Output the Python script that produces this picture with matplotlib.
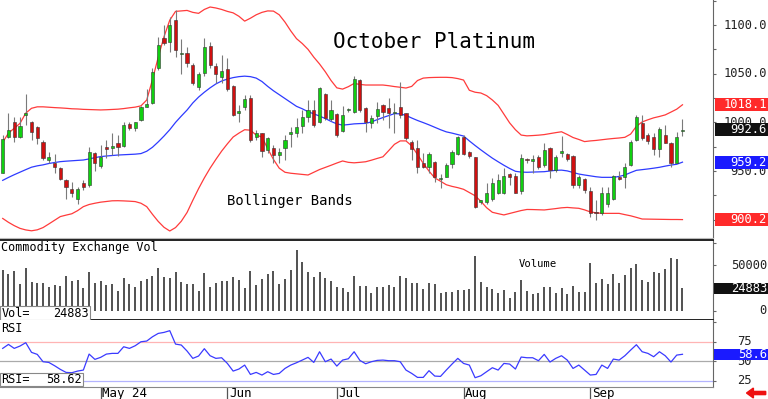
import numpy as np
import matplotlib.pyplot as plt
from matplotlib.patches import Rectangle, FancyArrow
from matplotlib.transforms import blended_transform_factory

plt.rcParams['font.family'] = ['DejaVu Sans Mono']

# daily OHLC, October platinum
open_ = [948.4, 984.7, 1000.1, 984.7, 1008.0, 1000.1, 995.6, 980.2, 961.4, 958.0,
         953.5, 940.9, 931.3, 921.0, 938.1, 935.7, 968.9, 955.2, 975.1, 973.7,
         978.5, 976.1, 998.4, 994.6, 1002.5, 1016.2, 1019.6, 1055.5, 1086.3, 1082.9,
         1105.2, 1070.2, 1071.6, 1059.0, 1036.7, 1050.4, 1078.5, 1058.3, 1047.0, 1054.5,
         1037.4, 1009.3, 1015.5, 1024.7, 984.7, 988.8, 971.7, 973.4, 966.5, 973.4,
         988.1, 988.8, 996.3, 1005.9, 1012.8, 1000.8, 1029.2, 1003.2, 1008.6, 991.5,
         1012.5, 1011.0, 1043.6, 1014.5, 999.0, 1006.6, 1017.9, 1014.5, 1009.3, 1015.5,
         1009.3, 980.2, 973.4, 958.7, 954.6, 959.7, 941.8, 944.3, 957.3, 967.6,
         985.4, 970.0, 964.1, 918.6, 918.6, 921.0, 927.2, 927.9, 946.7, 945.0,
         929.9, 962.4, 960.7, 964.1, 956.3, 973.4, 951.1, 968.2, 967.6, 965.5,
         935.7, 941.5, 929.9, 908.3, 906.6, 916.2, 921.0, 944.3, 943.6, 956.3,
         981.9, 999.0, 987.1, 985.4, 972.3, 987.1, 979.2, 958.7, 990.8]
high = [987.0, 1009.3, 1005.2, 1005.9, 1028.8, 1001.8, 996.7, 982.0, 970.0, 967.6,
        954.6, 941.5, 939.2, 934.0, 940.9, 975.1, 970.0, 976.8, 981.9, 988.8,
        987.1, 1000.8, 1000.8, 1000.8, 1016.9, 1034.0, 1055.5, 1088.1, 1100.0, 1108.6,
        1115.4, 1086.0, 1077.8, 1060.7, 1052.1, 1086.3, 1082.9, 1061.3, 1069.2, 1065.8,
        1038.4, 1017.9, 1028.1, 1028.1, 992.2, 989.5, 984.7, 976.8, 973.4, 987.1,
        995.6, 1004.2, 1012.8, 1023.0, 1023.0, 1036.1, 1029.9, 1023.0, 1009.3, 1016.9,
        1015.0, 1047.7, 1044.3, 1015.5, 1007.6, 1021.3, 1018.9, 1024.7, 1019.6, 1041.8,
        1010.0, 982.0, 981.9, 968.2, 970.0, 960.7, 947.0, 958.0, 971.7, 986.0,
        987.1, 971.0, 964.8, 920.3, 937.4, 942.5, 947.0, 952.8, 947.7, 947.7,
        967.6, 963.1, 966.5, 966.5, 979.2, 975.1, 966.5, 986.0, 968.9, 966.5,
        946.0, 942.5, 934.0, 920.3, 934.0, 934.0, 946.0, 950.5, 958.7, 981.9,
        1007.6, 1007.6, 988.8, 988.8, 995.6, 997.3, 980.2, 990.5, 1003.5]
low = [947.7, 983.7, 980.2, 983.7, 997.3, 982.0, 977.8, 961.4, 958.0, 947.7,
       940.9, 921.0, 923.7, 916.2, 930.6, 934.0, 950.5, 952.8, 963.1, 966.5,
       965.8, 975.1, 992.2, 991.5, 1001.8, 1015.5, 1018.9, 1053.8, 1079.5, 1072.6,
       1067.5, 1050.0, 1057.2, 1038.4, 1033.3, 1047.7, 1055.5, 1040.1, 1040.1, 1032.6,
       1006.6, 1000.8, 1012.8, 980.2, 981.9, 964.8, 968.2, 958.0, 958.0, 961.4,
       975.1, 984.7, 988.8, 1000.8, 995.0, 999.0, 1002.5, 1001.8, 984.7, 990.5,
       1011.0, 1010.0, 1011.0, 990.5, 994.0, 999.0, 1002.5, 993.9, 988.8, 1004.2,
       982.0, 961.4, 948.4, 952.8, 947.7, 939.2, 932.3, 943.6, 952.8, 966.5,
       966.5, 963.1, 911.8, 916.2, 916.2, 919.3, 926.5, 926.5, 935.7, 927.2,
       926.5, 958.0, 947.7, 951.8, 954.6, 942.5, 949.4, 964.8, 960.7, 932.3,
       932.3, 927.2, 903.2, 899.8, 904.9, 913.5, 920.3, 940.9, 932.3, 955.2,
       981.2, 982.0, 977.8, 966.5, 964.8, 978.5, 953.9, 958.0, 986.4]
close = [982.6, 992.2, 984.7, 996.7, 1010.0, 989.8, 983.7, 963.1, 964.1, 953.9,
         941.5, 933.3, 927.2, 931.3, 933.3, 970.0, 958.7, 964.1, 972.3, 975.8,
         974.4, 997.3, 993.9, 1000.1, 1016.2, 1018.9, 1052.1, 1079.5, 1081.2, 1100.0,
         1074.4, 1071.6, 1060.7, 1040.8, 1049.7, 1077.8, 1059.0, 1049.7, 1053.1, 1034.0,
         1007.6, 1012.0, 1023.7, 981.9, 988.8, 971.0, 983.7, 966.5, 970.0, 981.9,
         989.8, 995.6, 1005.9, 1012.8, 997.3, 1035.0, 1004.2, 1012.8, 987.1, 1007.6,
         1013.5, 1044.6, 1012.8, 1000.8, 1004.5, 1013.5, 1011.0, 1009.3, 1010.4, 1007.6,
         983.7, 972.3, 954.6, 953.9, 967.6, 944.3, 942.5, 956.3, 970.0, 984.7,
         967.6, 965.5, 913.5, 919.6, 927.9, 938.1, 940.9, 945.0, 944.3, 927.9,
         963.1, 961.4, 961.7, 953.9, 971.7, 951.1, 964.1, 970.9, 962.1, 935.7,
         944.3, 930.6, 906.6, 906.6, 927.9, 927.9, 945.0, 942.2, 954.6, 980.2,
         1005.2, 983.7, 981.2, 972.3, 992.9, 979.2, 958.7, 985.4, 992.6]

bb_upper = [979.6, 989, 994, 999, 1009.5, 1014.5, 1016, 1016, 1015.6, 1015.2,
            1014.9, 1014.5, 1014, 1013.8, 1013.4, 1013.2, 1013, 1012.8, 1013, 1013.3,
            1013.6, 1014.2, 1015, 1015.7, 1017, 1023, 1044, 1067, 1088, 1105,
            1114, 1114.5, 1115, 1113, 1112, 1116, 1118.5, 1117.5, 1116, 1114,
            1112.5, 1109, 1104, 1107, 1110.5, 1113, 1114.5, 1114.3, 1110.5, 1103,
            1094, 1086, 1081, 1075, 1067, 1060, 1052, 1043, 1035.5, 1034.2,
            1036.7, 1040, 1039, 1038.4, 1038.4, 1038.4, 1038.4, 1037.7, 1036.8, 1036.1,
            1035.3, 1037, 1043, 1045.5, 1046, 1046.2, 1046.3, 1046.3, 1046, 1045,
            1043.5, 1033, 1031, 1030.2, 1027.5, 1023, 1017.5, 1008.5, 999.5, 992.5,
            987, 986.2, 986.5, 986.9, 987.5, 988.5, 989.5, 990.4, 987.6, 984.5,
            982.5, 980.3, 981, 981.5, 982.2, 982.9, 983.5, 984, 984.7, 988,
            996, 1000.5, 1002.7, 1004.7, 1006.1, 1007.7, 1010.6, 1013.6, 1018.1]
bb_mid = [940.5, 943.5, 946.3, 948.9, 951.5, 954, 955.4, 956.4, 957.8, 958.8,
          959.7, 960.2, 960.6, 961, 961.4, 962.5, 963.8, 964.9, 965.5, 966,
          966.5, 966.8, 967.1, 967.4, 968, 970.4, 974.5, 980, 986, 992.5,
          1000, 1006.5, 1012.7, 1020, 1026, 1031, 1035.5, 1039.5, 1042.5, 1044.5,
          1046, 1047, 1047.5, 1047, 1045.5, 1042, 1037, 1032.5, 1028.5, 1024.5,
          1020.5, 1016.5, 1014, 1011, 1008.8, 1006.5, 1004, 1001, 998.5, 997.2,
          997.8, 998.5, 998.8, 999, 1000.5, 1002.8, 1005, 1007, 1009, 1008.8,
          1007.2, 1004.5, 1002, 999.8, 997.5, 995, 992.5, 990.3, 989, 987.5,
          986, 981, 976.3, 971.8, 967.5, 963.3, 959.6, 956, 952.7, 949.8,
          949, 948.8, 949, 949.2, 949.4, 950.1, 950.8, 951, 950.2, 948.6,
          947, 946, 945.1, 944.2, 943.6, 943.6, 943.6, 944.5, 946, 948.5,
          950.8, 951.5, 952.2, 953, 953.9, 955.1, 956.2, 957, 959.2]
bb_lower = [901.4, 897.4, 894, 891.2, 889.6, 888.7, 889.7, 892, 895.7, 899.5,
            903.3, 904.8, 906.2, 909.4, 913.5, 915.7, 917, 918.1, 918.8, 919.5,
            919.6, 919.4, 919.1, 918.7, 917, 913.5, 905.6, 898.3, 892.3, 888.5,
            892, 898.5, 907.5, 920, 932, 943, 953, 962, 970.5, 978,
            985, 989, 992.5, 992, 987, 985, 973, 962, 953, 948.8,
            947.8, 947.2, 946.6, 946, 948.8, 951.6, 953.8, 956, 958.3, 960.4,
            959, 958.5, 959, 959.6, 961.2, 963, 964.7, 971, 977.5, 981,
            981, 975.9, 967, 958, 950, 943, 939.6, 936, 934.3, 933,
            931.3, 928, 924.7, 919, 912.4, 907.7, 906.3, 905, 906.5, 908,
            909.5, 910.6, 910.5, 910.3, 910.1, 910.8, 911.5, 912.3, 912.7, 912.2,
            911.8, 910.2, 908.1, 907.2, 906.6, 906.6, 906.6, 906.6, 905.3, 904.1,
            902.5, 900.8, 900.7, 900.6, 900.5, 900.4, 900.3, 900.3, 900.2]

volume = [45100, 40300, 44300, 29700, 46900, 32200, 31100, 30400, 26000, 28600,
          27800, 38800, 33000, 34100, 24900, 42500, 31100, 33000, 28600, 29300,
          22300, 35900, 29300, 26700, 33300, 34800, 38500, 46900, 37000, 35900,
          42500, 32200, 29700, 29700, 22300, 41400, 26000, 30400, 33000, 33300,
          37400, 34100, 25600, 44000, 28600, 35500, 40700, 44000, 29700, 34800,
          45100, 67000, 53500, 42500, 37000, 42500, 35900, 33300, 26700, 25600,
          21200, 38800, 27800, 27500, 19400, 26000, 26000, 28600, 26700, 38500,
          35900, 31100, 31100, 24200, 31100, 29300, 20100, 21200, 21200, 23100,
          23100, 23800, 60800, 31500, 26000, 24200, 19400, 23100, 14700, 20500,
          34100, 22000, 18300, 19400, 26700, 26000, 20100, 24900, 18700, 27500,
          20500, 21200, 52400, 30400, 35200, 29700, 40700, 30400, 39600, 46900,
          51300, 34100, 31500, 43200, 42100, 45800, 58600, 57100, 24883]

rsi = [66.2, 71.3, 66.2, 69.2, 73.5, 61.1, 58.5, 49.1, 48.2, 44.0,
       39.3, 35.4, 35.0, 37.1, 38.4, 58.9, 52.1, 54.7, 58.9, 59.8,
       59.8, 68.3, 66.2, 69.6, 74.7, 75.6, 81.1, 85.4, 86.7, 88.9,
       71.7, 70.5, 62.8, 53.4, 56.4, 65.8, 56.8, 53.4, 54.2, 46.9,
       37.1, 39.7, 44.8, 32.8, 35.4, 32.0, 36.3, 32.8, 34.1, 40.5,
       44.8, 47.8, 51.2, 54.7, 48.2, 61.9, 49.1, 52.5, 43.5, 51.2,
       52.9, 61.9, 50.8, 46.5, 49.1, 50.8, 51.2, 50.4, 50.4, 49.1,
       38.4, 34.1, 29.0, 29.0, 37.6, 30.7, 30.3, 38.4, 46.1, 53.4,
       46.9, 44.8, 28.6, 31.1, 36.3, 41.4, 38.4, 46.9, 46.1, 39.7,
       55.1, 54.2, 54.2, 50.4, 58.5, 48.7, 53.4, 56.8, 51.2, 40.5,
       44.8, 38.4, 32.0, 32.8, 44.8, 40.5, 52.5, 51.2, 56.8, 64.0,
       70.9, 61.9, 59.8, 55.5, 61.9, 56.8, 48.7, 57.6, 58.62]

month_idx = [17, 39, 58, 80, 102]
month_labels = ['May 24', 'Jun', 'Jul', 'Aug', 'Sep']

o = np.array(open_)
h = np.array(high)
l = np.array(low)
c = np.array(close)
x = np.arange(len(c))

fig = plt.figure(figsize=(7.68, 3.99), dpi=100)
ax1 = fig.add_axes([0, 0.4035, 0.9284, 0.5965])
ax2 = fig.add_axes([0, 0.198, 0.9284, 0.2005])
ax3 = fig.add_axes([0, 0.0301, 0.9284, 0.1679])

for ax in (ax1, ax2, ax3):
    ax.set_xlim(-0.47, 123.3)
    ax.set_xticks([])
    for s in ('left', 'top', 'bottom'):
        ax.spines[s].set_visible(False)
    ax.spines['right'].set_color('#666666')
    ax.yaxis.tick_right()
    ax.tick_params(axis='y', length=2.5, color='#666666', labelright=False)

# --- price panel
ax1.set_ylim(881.3, 1125.7)
ax1.set_yticks(np.arange(900, 1126, 25))
ax1.spines['bottom'].set_visible(True)
ax1.spines['bottom'].set_color('#bbbbbb')

ax1.plot(x, bb_upper, color='#ff3b3b', lw=0.9, zorder=1)
ax1.plot(x, bb_lower, color='#ff3b3b', lw=0.9, zorder=1)
ax1.plot(x, bb_mid, color='#2e3bff', lw=0.9, zorder=1)

up = c >= o
colors = np.where(up, '#10d010', '#d01010')
ax1.vlines(x, l, h, color='#7a7a7a', lw=0.8, zorder=2)
body = np.maximum(np.abs(c - o), 1.3)
ax1.bar(x, body, bottom=np.minimum(o, c), width=0.55, color=colors,
        edgecolor='#333333', linewidth=0.4, zorder=3)

ax1.text(0.609, 0.824, 'October Platinum', transform=ax1.transAxes,
         fontsize=15, ha='center', va='center')
ax1.text(0.407, 0.155, 'Bollinger Bands', transform=ax1.transAxes,
         fontsize=10, ha='center', va='center')

tr1 = blended_transform_factory(ax1.transAxes, ax1.transData)
for v in [1100, 1050, 1000, 950, 900]:
    ax1.text(1.0757, v, f'{v:.1f}', transform=tr1, ha='right', va='center',
             fontsize=8.7, color='#222222', zorder=4)
for v, col in [(bb_upper[-1], '#ff2a2a'), (c[-1], '#111111'),
               (bb_mid[-1], '#1a1aff'), (bb_lower[-1], '#ff2a2a')]:
    ax1.add_patch(Rectangle((1.003, v - 6.6), 0.0744, 13.3, transform=tr1,
                            facecolor=col, edgecolor='none', clip_on=False, zorder=5))
    ax1.text(1.0757, v, f'{v:.1f}', transform=tr1, ha='right', va='center',
             fontsize=8.7, color='white', zorder=6)

# --- volume panel
ax2.set_ylim(-9900, 78000)
ax2.set_yticks([0, 25000, 50000, 75000])
for s in ('top', 'bottom'):
    ax2.spines[s].set_visible(True)
    ax2.spines[s].set_color('#111111')
    ax2.spines[s].set_linewidth(1.3)
ax2.vlines(x, 0, volume, color='#222222', lw=1.1)

ax2.text(0.001, 0.9, 'Commodity Exchange Vol', transform=ax2.transAxes,
         fontsize=8.5, ha='left', va='center')
ax2.text(0.755, 0.70, 'Volume', transform=ax2.transAxes, fontsize=7.6,
         ha='center', va='center')
ax2.add_patch(Rectangle((0, 0), 0.1262, 0.175, transform=ax2.transAxes,
                        facecolor='white', edgecolor='#888888', lw=0.8, zorder=5))
ax2.text(0.002, 0.085, 'Vol=', transform=ax2.transAxes, fontsize=8.6,
         ha='left', va='center', zorder=6)
ax2.text(0.125, 0.085, f'{volume[-1]}', transform=ax2.transAxes, fontsize=8.6,
         ha='right', va='center', zorder=6)

tr2 = blended_transform_factory(ax2.transAxes, ax2.transData)
for v in [50000, 0]:
    ax2.text(1.0757, v, f'{v}', transform=tr2, ha='right', va='center',
             fontsize=8.7, color='#222222')
ax2.add_patch(Rectangle((1.002, volume[-1] - 6200), 0.0757, 12400, transform=tr2,
                        facecolor='#111111', edgecolor='none', clip_on=False, zorder=5))
ax2.text(1.0757, volume[-1], f'{volume[-1]}', transform=tr2, ha='right',
         va='center', fontsize=8.7, color='white', zorder=6)

# --- RSI panel
ax3.set_ylim(16.7, 102.6)
ax3.set_yticks([25, 50, 75, 100])
ax3.spines['bottom'].set_visible(True)
ax3.spines['bottom'].set_color('#888888')
ax3.axhline(75, color='#ffb4b4', lw=0.9)
ax3.axhline(50, color='#aaaaaa', lw=0.9)
ax3.axhline(25, color='#b4b4ff', lw=0.9)
ax3.plot(x, rsi, color='#3a3aff', lw=0.9)

ax3.text(0.001, 0.88, 'RSI', transform=ax3.transAxes, fontsize=8.6,
         ha='left', va='center')
ax3.add_patch(Rectangle((0, 0.01), 0.1164, 0.2, transform=ax3.transAxes,
                        facecolor='white', edgecolor='#888888', lw=0.8, zorder=5))
ax3.text(0.002, 0.11, 'RSI=', transform=ax3.transAxes, fontsize=8.6,
         ha='left', va='center', zorder=6)
ax3.text(0.115, 0.11, f'{rsi[-1]:.2f}', transform=ax3.transAxes, fontsize=8.6,
         ha='right', va='center', zorder=6)

tr3 = blended_transform_factory(ax3.transAxes, ax3.transData)
for v in [75, 50, 25]:
    ax3.text(1.0547, v, f'{v}', transform=tr3, ha='right', va='center',
             fontsize=8.7, color='#222222')
ax3.add_patch(Rectangle((1.002, rsi[-1] - 7.0), 0.0757, 14.0, transform=tr3,
                        facecolor='#1a1aff', edgecolor='none', clip_on=False, zorder=5))
ax3.text(1.0757, rsi[-1], f'{rsi[-1]:.1f}', transform=tr3, ha='right',
         va='center', fontsize=8.7, color='white', zorder=6)

# month axis
ax3.set_xticks(month_idx)
ax3.tick_params(axis='x', length=8.6, width=0.9, color='#555555', labelbottom=False)
trx = blended_transform_factory(ax3.transData, ax3.transAxes)
for i, lab in zip(month_idx, month_labels):
    ax3.text(i + 0.25, -0.10, lab, transform=trx, fontsize=9, ha='left', va='center')

fig.add_artist(FancyArrow(0.997, 0.015, -0.016, 0, width=0.008, head_width=0.025,
                          head_length=0.009, color='#ee1111', transform=fig.transFigure))

fig.savefig('out.png', dpi=100)
